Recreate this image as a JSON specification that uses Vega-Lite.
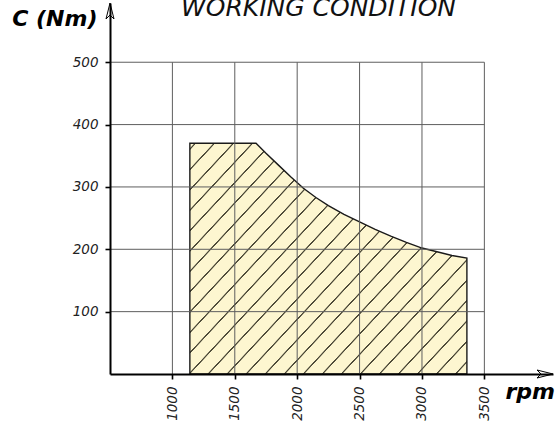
{
  "$schema": "https://vega.github.io/schema/vega-lite/v6.json",
  "width": 443,
  "height": 371,
  "autosize": "none",
  "padding": {"left": 110, "top": 3, "right": 6, "bottom": 49},
  "background": "white",
  "config": {"view": {"stroke": null}},
  "title": {
    "text": "WORKING CONDITION",
    "font": "DejaVu Sans",
    "fontStyle": "italic",
    "fontWeight": "normal",
    "fontSize": 25,
    "color": "#111111",
    "anchor": "middle",
    "frame": "group",
    "baseline": "top",
    "offset": -20,
    "dx": -13
  },
  "datasets": {
    "curve": [
      {"rpm": 1140, "c": 370},
      {"rpm": 1670, "c": 370},
      {"rpm": 1750, "c": 354},
      {"rpm": 1850, "c": 335},
      {"rpm": 1950, "c": 316},
      {"rpm": 2050, "c": 298},
      {"rpm": 2150, "c": 283},
      {"rpm": 2250, "c": 270},
      {"rpm": 2375, "c": 256},
      {"rpm": 2500, "c": 244},
      {"rpm": 2625, "c": 232},
      {"rpm": 2750, "c": 221},
      {"rpm": 2875, "c": 211},
      {"rpm": 3000, "c": 202},
      {"rpm": 3120, "c": 196},
      {"rpm": 3240, "c": 190},
      {"rpm": 3360, "c": 186}
    ],
    "vgrid": [
      {"rpm": 1000}, {"rpm": 1500}, {"rpm": 2000}, {"rpm": 2500}, {"rpm": 3000}, {"rpm": 3500}
    ],
    "hgrid": [
      {"c": 100}, {"c": 200}, {"c": 300}, {"c": 400}, {"c": 500}
    ],
    "arrows": [
      {"rpm": 4050, "c": 0, "dir": "right"},
      {"rpm": 500, "c": 595, "dir": "up"}
    ]
  },
  "layer": [
    {
      "data": {"name": "curve"},
      "mark": {
        "type": "area",
        "interpolate": "linear",
        "stroke": "#1a1a1a",
        "strokeWidth": 1.4,
        "fill": {
          "gradient": "linear",
          "x1": 0, "y1": 0, "x2": 1.108, "y2": 0.862,
          "stops": [
            {"offset": 0, "color": "#fdf6d0"},
            {"offset": 0.0087, "color": "#fdf6d0"}, {"offset": 0.0101, "color": "#4d4a38"}, {"offset": 0.0123, "color": "#4d4a38"}, {"offset": 0.0137, "color": "#fdf6d0"},
            {"offset": 0.0473, "color": "#fdf6d0"}, {"offset": 0.0487, "color": "#4d4a38"}, {"offset": 0.0509, "color": "#4d4a38"}, {"offset": 0.0523, "color": "#fdf6d0"},
            {"offset": 0.0859, "color": "#fdf6d0"}, {"offset": 0.0873, "color": "#4d4a38"}, {"offset": 0.0895, "color": "#4d4a38"}, {"offset": 0.0909, "color": "#fdf6d0"},
            {"offset": 0.1245, "color": "#fdf6d0"}, {"offset": 0.1259, "color": "#4d4a38"}, {"offset": 0.1281, "color": "#4d4a38"}, {"offset": 0.1295, "color": "#fdf6d0"},
            {"offset": 0.1631, "color": "#fdf6d0"}, {"offset": 0.1645, "color": "#4d4a38"}, {"offset": 0.1667, "color": "#4d4a38"}, {"offset": 0.1681, "color": "#fdf6d0"},
            {"offset": 0.2018, "color": "#fdf6d0"}, {"offset": 0.2032, "color": "#4d4a38"}, {"offset": 0.2054, "color": "#4d4a38"}, {"offset": 0.2068, "color": "#fdf6d0"},
            {"offset": 0.2404, "color": "#fdf6d0"}, {"offset": 0.2418, "color": "#4d4a38"}, {"offset": 0.2440, "color": "#4d4a38"}, {"offset": 0.2454, "color": "#fdf6d0"},
            {"offset": 0.2790, "color": "#fdf6d0"}, {"offset": 0.2804, "color": "#4d4a38"}, {"offset": 0.2826, "color": "#4d4a38"}, {"offset": 0.2840, "color": "#fdf6d0"},
            {"offset": 0.3176, "color": "#fdf6d0"}, {"offset": 0.3190, "color": "#4d4a38"}, {"offset": 0.3212, "color": "#4d4a38"}, {"offset": 0.3226, "color": "#fdf6d0"},
            {"offset": 0.3562, "color": "#fdf6d0"}, {"offset": 0.3576, "color": "#4d4a38"}, {"offset": 0.3598, "color": "#4d4a38"}, {"offset": 0.3612, "color": "#fdf6d0"},
            {"offset": 0.3948, "color": "#fdf6d0"}, {"offset": 0.3962, "color": "#4d4a38"}, {"offset": 0.3984, "color": "#4d4a38"}, {"offset": 0.3998, "color": "#fdf6d0"},
            {"offset": 0.4334, "color": "#fdf6d0"}, {"offset": 0.4348, "color": "#4d4a38"}, {"offset": 0.4370, "color": "#4d4a38"}, {"offset": 0.4384, "color": "#fdf6d0"},
            {"offset": 0.4720, "color": "#fdf6d0"}, {"offset": 0.4734, "color": "#4d4a38"}, {"offset": 0.4756, "color": "#4d4a38"}, {"offset": 0.4770, "color": "#fdf6d0"},
            {"offset": 0.5106, "color": "#fdf6d0"}, {"offset": 0.5120, "color": "#4d4a38"}, {"offset": 0.5142, "color": "#4d4a38"}, {"offset": 0.5156, "color": "#fdf6d0"},
            {"offset": 0.5492, "color": "#fdf6d0"}, {"offset": 0.5506, "color": "#4d4a38"}, {"offset": 0.5528, "color": "#4d4a38"}, {"offset": 0.5542, "color": "#fdf6d0"},
            {"offset": 0.5879, "color": "#fdf6d0"}, {"offset": 0.5893, "color": "#4d4a38"}, {"offset": 0.5915, "color": "#4d4a38"}, {"offset": 0.5929, "color": "#fdf6d0"},
            {"offset": 0.6265, "color": "#fdf6d0"}, {"offset": 0.6279, "color": "#4d4a38"}, {"offset": 0.6301, "color": "#4d4a38"}, {"offset": 0.6315, "color": "#fdf6d0"},
            {"offset": 0.6651, "color": "#fdf6d0"}, {"offset": 0.6665, "color": "#4d4a38"}, {"offset": 0.6687, "color": "#4d4a38"}, {"offset": 0.6701, "color": "#fdf6d0"},
            {"offset": 0.7037, "color": "#fdf6d0"}, {"offset": 0.7051, "color": "#4d4a38"}, {"offset": 0.7073, "color": "#4d4a38"}, {"offset": 0.7087, "color": "#fdf6d0"},
            {"offset": 0.7423, "color": "#fdf6d0"}, {"offset": 0.7437, "color": "#4d4a38"}, {"offset": 0.7459, "color": "#4d4a38"}, {"offset": 0.7473, "color": "#fdf6d0"},
            {"offset": 0.7809, "color": "#fdf6d0"}, {"offset": 0.7823, "color": "#4d4a38"}, {"offset": 0.7845, "color": "#4d4a38"}, {"offset": 0.7859, "color": "#fdf6d0"},
            {"offset": 0.8195, "color": "#fdf6d0"}, {"offset": 0.8209, "color": "#4d4a38"}, {"offset": 0.8231, "color": "#4d4a38"}, {"offset": 0.8245, "color": "#fdf6d0"},
            {"offset": 0.8581, "color": "#fdf6d0"}, {"offset": 0.8595, "color": "#4d4a38"}, {"offset": 0.8617, "color": "#4d4a38"}, {"offset": 0.8631, "color": "#fdf6d0"},
            {"offset": 0.8967, "color": "#fdf6d0"}, {"offset": 0.8981, "color": "#4d4a38"}, {"offset": 0.9003, "color": "#4d4a38"}, {"offset": 0.9017, "color": "#fdf6d0"},
            {"offset": 0.9353, "color": "#fdf6d0"}, {"offset": 0.9367, "color": "#4d4a38"}, {"offset": 0.9389, "color": "#4d4a38"}, {"offset": 0.9403, "color": "#fdf6d0"},
            {"offset": 0.9740, "color": "#fdf6d0"}, {"offset": 0.9754, "color": "#4d4a38"}, {"offset": 0.9776, "color": "#4d4a38"}, {"offset": 0.9790, "color": "#fdf6d0"},
            {"offset": 1, "color": "#fdf6d0"}
          ]
        }
      },
      "encoding": {
        "x": {
          "field": "rpm",
          "type": "quantitative",
          "scale": {"domain": [500, 4050], "nice": false, "zero": false},
          "axis": {
            "values": [1000, 1500, 2000, 2500, 3000, 3500],
            "format": "d",
            "grid": false,
            "labelAngle": 270,
            "labelFont": "DejaVu Sans",
            "labelFontStyle": "italic",
            "labelFontSize": 13.5,
            "labelColor": "#222222",
            "labelPadding": 7,
            "tickSize": 5,
            "tickWidth": 1.6,
            "tickColor": "black",
            "domainColor": "black",
            "domainWidth": 2,
            "zindex": 2,
            "title": "rpm",
            "titleFont": "DejaVu Sans",
            "titleFontStyle": "italic",
            "titleFontWeight": "bold",
            "titleFontSize": 22,
            "titleColor": "black",
            "titleAlign": "left",
            "titleBaseline": "alphabetic",
            "titleAngle": 0,
            "titleX": 395,
            "titleY": 24
          }
        },
        "y": {
          "field": "c",
          "type": "quantitative",
          "scale": {"domain": [0, 595], "nice": false, "zero": true},
          "axis": {
            "values": [100, 200, 300, 400, 500],
            "grid": false,
            "labelFont": "DejaVu Sans",
            "labelFontStyle": "italic",
            "labelFontSize": 13.5,
            "labelColor": "#222222",
            "labelPadding": 7,
            "tickSize": 5,
            "tickWidth": 1.6,
            "tickColor": "black",
            "domainColor": "black",
            "domainWidth": 2,
            "zindex": 2,
            "title": "C (Nm)",
            "titleFont": "DejaVu Sans",
            "titleFontStyle": "italic",
            "titleFontWeight": "bold",
            "titleFontSize": 22,
            "titleColor": "black",
            "titleAngle": 0,
            "titleAlign": "right",
            "titleBaseline": "alphabetic",
            "titleX": -13,
            "titleY": 22
          }
        }
      }
    },
    {
      "data": {"name": "vgrid"},
      "mark": {"type": "rule", "color": "#5e5e5e", "strokeWidth": 1},
      "encoding": {
        "x": {"field": "rpm", "type": "quantitative"},
        "y": {"datum": 0},
        "y2": {"datum": 500}
      }
    },
    {
      "data": {"name": "hgrid"},
      "mark": {"type": "rule", "color": "#5e5e5e", "strokeWidth": 1},
      "encoding": {
        "y": {"field": "c", "type": "quantitative"},
        "x": {"datum": 500},
        "x2": {"datum": 3500}
      }
    },
    {
      "data": {"name": "arrows"},
      "mark": {"type": "point", "filled": true, "fill": "white", "stroke": "black", "strokeWidth": 1, "size": 64, "opacity": 1},
      "encoding": {
        "x": {"field": "rpm", "type": "quantitative"},
        "y": {"field": "c", "type": "quantitative"},
        "shape": {
          "field": "dir",
          "type": "nominal",
          "scale": {"domain": ["up", "right"], "range": ["M-1,4L0,0L1,4L0,3Z", "M-4,-1L0,0L-4,1L-3,0Z"]},
          "legend": null
        }
      }
    }
  ]
}
